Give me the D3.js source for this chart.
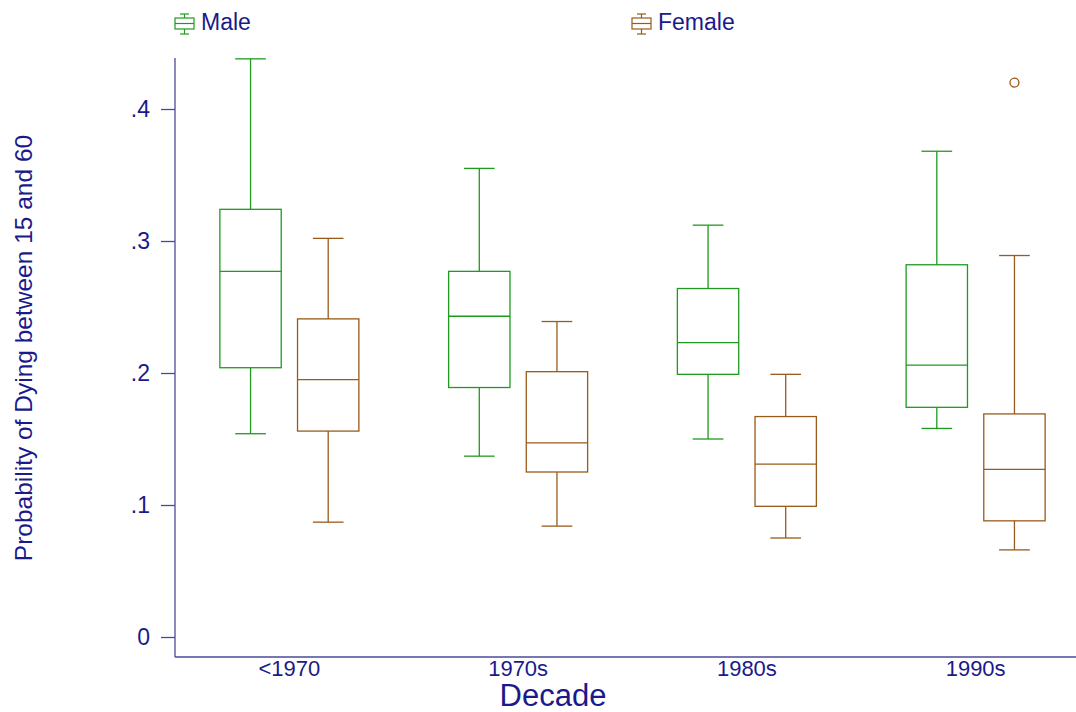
<!DOCTYPE html>
<html>
<head>
<meta charset="utf-8">
<script src="https://cdn.jsdelivr.net/npm/d3@7"></script>
<style>
  body { margin: 0; background: #fff; }
  text { font-family: "Liberation Sans", Arial, sans-serif; fill: #1a1a8a; }
</style>
</head>
<body>
<div id="chart"></div>
<script>
// donnees
var decades = ["<1970", "1970s", "1980s", "1990s"];
var sexes = ["Male", "Female"];
// [min, q1, median, q3, max] par decennie
var maleStats = [
  [0.154, 0.204, 0.277, 0.324, 0.438],
  [0.137, 0.189, 0.243, 0.277, 0.355],
  [0.150, 0.199, 0.223, 0.264, 0.312],
  [0.158, 0.174, 0.206, 0.282, 0.368]
];
var femaleStats = [
  [0.087, 0.156, 0.195, 0.241, 0.302],
  [0.084, 0.125, 0.147, 0.201, 0.239],
  [0.075, 0.099, 0.131, 0.167, 0.199],
  [0.066, 0.088, 0.127, 0.169, 0.289]
];
var outliers = [{decade: "1990s", sex: "Female", value: 0.420}];
var yTicks = [0, 0.1, 0.2, 0.3, 0.4];

var width = 1076, height = 712;
var colors = {Male: "#1f9a1f", Female: "#9a5a1a"};

var svg = d3.select("#chart").append("svg")
    .attr("width", width)
    .attr("height", height);

var x = d3.scaleBand().domain(decades).range([175, 1090]);
var xSex = d3.scaleBand().domain(sexes).range([-69.5, 69.5]).paddingInner(0.21).paddingOuter(0);
var y = d3.scaleLinear().domain([0, 0.4]).range([637, 109]);

// axes
var yAxis = d3.axisLeft(y).tickValues(yTicks).tickSize(14).tickPadding(11)
    .tickFormat(function(d) { return d === 0 ? "0" : d3.format(".1f")(d).replace(/^0/, ""); });
var gy = svg.append("g").attr("transform", "translate(175,0)").call(yAxis);
gy.select(".domain").remove();
gy.selectAll("line").attr("stroke", "#4a4a9a").attr("stroke-width", 1.3);
gy.selectAll("text").style("font-size", "23px").attr("fill", "#1a1a8a");
svg.append("line").attr("x1", 175).attr("x2", 175).attr("y1", 58).attr("y2", 657)
    .attr("stroke", "#4a4a9a").attr("stroke-width", 1.3);

var xAxis = d3.axisBottom(x).tickSize(0).tickPadding(3);
var gx = svg.append("g").attr("transform", "translate(0,657)").call(xAxis);
gx.select(".domain").remove();
gx.selectAll("text").style("font-size", "22px").attr("fill", "#1a1a8a");
svg.append("line").attr("x1", 175).attr("x2", 1076).attr("y1", 657).attr("y2", 657)
    .attr("stroke", "#4a4a9a").attr("stroke-width", 1.3);

// titres
svg.append("text").attr("x", 553).attr("y", 706).attr("text-anchor", "middle")
    .style("font-size", "31px").text("Decade");
svg.append("text").attr("transform", "translate(32,348) rotate(-90)").attr("text-anchor", "middle")
    .style("font-size", "24.5px").text("Probability of Dying between 15 and 60");

// boites
var rows = [];
decades.forEach(function(d, i) {
  rows.push({decade: d, sex: "Male", s: maleStats[i]});
  rows.push({decade: d, sex: "Female", s: femaleStats[i]});
});

var boxes = svg.selectAll(".box").data(rows).enter().append("g")
    .attr("class", "box")
    .attr("transform", function(d) {
      return "translate(" + (x(d.decade) + x.bandwidth() / 2 + xSex(d.sex)) + ",0)";
    })
    .attr("stroke", function(d) { return colors[d.sex]; })
    .attr("stroke-width", 1.3)
    .attr("fill", "none");

var bw = xSex.bandwidth();
boxes.append("rect")
    .attr("x", 0).attr("width", bw)
    .attr("y", function(d) { return y(d.s[3]); })
    .attr("height", function(d) { return y(d.s[1]) - y(d.s[3]); });
boxes.append("line").attr("x1", 0).attr("x2", bw)
    .attr("y1", function(d) { return y(d.s[2]); }).attr("y2", function(d) { return y(d.s[2]); });
boxes.append("line").attr("x1", bw / 2).attr("x2", bw / 2)
    .attr("y1", function(d) { return y(d.s[3]); }).attr("y2", function(d) { return y(d.s[4]); });
boxes.append("line").attr("x1", bw / 2).attr("x2", bw / 2)
    .attr("y1", function(d) { return y(d.s[1]); }).attr("y2", function(d) { return y(d.s[0]); });
boxes.append("line").attr("x1", bw / 4).attr("x2", bw * 3 / 4)
    .attr("y1", function(d) { return y(d.s[4]); }).attr("y2", function(d) { return y(d.s[4]); });
boxes.append("line").attr("x1", bw / 4).attr("x2", bw * 3 / 4)
    .attr("y1", function(d) { return y(d.s[0]); }).attr("y2", function(d) { return y(d.s[0]); });

svg.selectAll(".outlier").data(outliers).enter().append("circle")
    .attr("class", "outlier")
    .attr("cx", function(d) { return x(d.decade) + x.bandwidth() / 2 + xSex(d.sex) + bw / 2; })
    .attr("cy", function(d) { return y(d.value); })
    .attr("r", 4.5)
    .attr("fill", "none")
    .attr("stroke", function(d) { return colors[d.sex]; })
    .attr("stroke-width", 1.3);

// legende
var legendX = {Male: 175, Female: 632};
var leg = svg.selectAll(".leg").data(sexes).enter().append("g")
    .attr("class", "leg")
    .attr("transform", function(d) { return "translate(" + legendX[d] + ",0)"; });
var icon = leg.append("g").attr("stroke", function(d) { return colors[d]; })
    .attr("stroke-width", 1.2).attr("fill", "none");
icon.append("rect").attr("x", 0).attr("y", 18).attr("width", 19).attr("height", 11);
icon.append("line").attr("x1", 0).attr("x2", 19).attr("y1", 23.5).attr("y2", 23.5);
icon.append("line").attr("x1", 9.5).attr("x2", 9.5).attr("y1", 14).attr("y2", 18);
icon.append("line").attr("x1", 9.5).attr("x2", 9.5).attr("y1", 29).attr("y2", 34);
icon.append("line").attr("x1", 5).attr("x2", 14).attr("y1", 14).attr("y2", 14);
icon.append("line").attr("x1", 5).attr("x2", 14).attr("y1", 34).attr("y2", 34);
leg.append("text").attr("x", 26).attr("y", 30).style("font-size", "23px")
    .text(function(d) { return d; });
</script>
</body>
</html>
